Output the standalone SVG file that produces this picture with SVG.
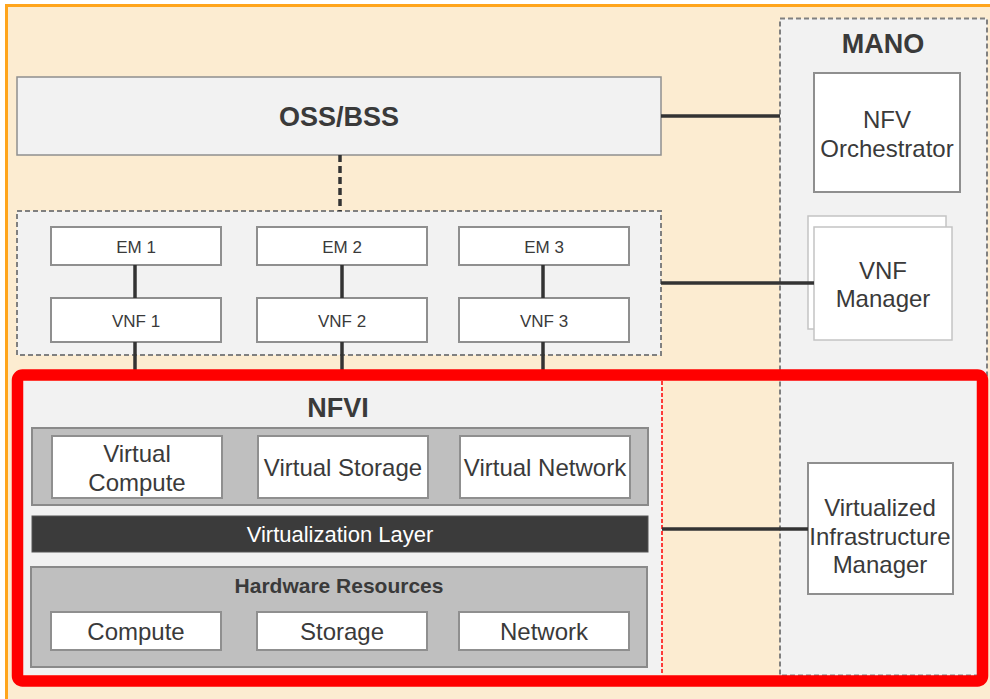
<svg xmlns="http://www.w3.org/2000/svg" width="990" height="699" viewBox="0 0 990 699">
  <style>
    text { font-family: "Liberation Sans", Arial, sans-serif; fill: #3a3a3a; text-anchor: middle; }
    .title { font-size: 27px; font-weight: bold; }
    .lbl { font-size: 24px; }
    .small { font-size: 17px; }
    .box { fill: #ffffff; stroke: #8f8f8f; stroke-width: 2; }
    .lightbox { fill: #ffffff; stroke: #c4c4c4; stroke-width: 1.5; }
    .panel { fill: #f2f2f2; stroke: #8f8f8f; stroke-width: 1.5; }
    .dashpanel { fill: #f2f2f2; stroke: #808080; stroke-width: 2; stroke-dasharray: 5 3; }
    .tray { fill: #bfbfbf; stroke: #8a8a8a; stroke-width: 2; }
    .link { stroke: #333333; stroke-width: 3.5; fill: none; }
  </style>

  <!-- overall canvas -->
  <rect x="6.5" y="5.5" width="1000" height="720" fill="#fcecd1" stroke="#ffa51c" stroke-width="3"/>

  <!-- MANO column -->
  <g id="mano">
    <rect class="dashpanel" x="780" y="18.5" width="207" height="657"/>
    <text class="title" x="883" y="53">MANO</text>
  </g>

  <g id="oss-bss">
    <rect class="panel" x="17" y="77" width="644" height="78"/>
    <text class="title" x="339" y="126">OSS/BSS</text>
  </g>

  <g id="nfv-orchestrator">
    <rect class="box" x="814" y="73" width="146" height="119"/>
    <text class="lbl" x="887" y="128">NFV</text>
    <text class="lbl" x="887" y="157">Orchestrator</text>
  </g>

  <g id="vnf-manager">
    <rect class="lightbox" x="808" y="216" width="138" height="113"/>
    <rect class="lightbox" x="814" y="227" width="138" height="113"/>
    <text class="lbl" x="883" y="279">VNF</text>
    <text class="lbl" x="883" y="307">Manager</text>
  </g>

  <!-- VNF / EM area -->
  <g id="vnf-area">
    <rect class="dashpanel" x="17" y="211" width="644" height="144"/>
  </g>
  <g id="em1"><rect class="box" x="51" y="227" width="170" height="38"/><text class="small" x="136" y="253">EM 1</text></g>
  <g id="em2"><rect class="box" x="257" y="227" width="170" height="38"/><text class="small" x="342" y="253">EM 2</text></g>
  <g id="em3"><rect class="box" x="459" y="227" width="170" height="38"/><text class="small" x="544" y="253">EM 3</text></g>
  <g id="vnf1"><rect class="box" x="51" y="298" width="170" height="44"/><text class="small" x="136" y="327">VNF 1</text></g>
  <g id="vnf2"><rect class="box" x="257" y="298" width="170" height="44"/><text class="small" x="342" y="327">VNF 2</text></g>
  <g id="vnf3"><rect class="box" x="459" y="298" width="170" height="44"/><text class="small" x="544" y="327">VNF 3</text></g>

  <!-- NFVI -->
  <g id="nfvi">
    <rect x="23" y="381" width="639" height="294" fill="#f2f2f2"/>
    <line x1="662" y1="381" x2="662" y2="675" stroke="#ff0000" stroke-width="1.5" stroke-dasharray="4 2"/>
    <text class="title" x="338" y="417">NFVI</text>
  </g>
  <g id="virtual-resources">
    <rect class="tray" x="32" y="428" width="616" height="77"/>
  </g>
  <g id="virtual-compute">
    <rect class="box" x="52" y="436" width="170" height="62"/>
    <text class="lbl" x="137" y="462">Virtual</text>
    <text class="lbl" x="137" y="491">Compute</text>
  </g>
  <g id="virtual-storage">
    <rect class="box" x="258" y="436" width="170" height="62"/>
    <text class="lbl" x="343" y="476">Virtual Storage</text>
  </g>
  <g id="virtual-network">
    <rect class="box" x="460" y="436" width="170" height="62"/>
    <text class="lbl" x="545" y="476">Virtual Network</text>
  </g>
  <g id="virtualization-layer">
    <rect x="32" y="516" width="616" height="36" fill="#3b3b3b" stroke="#555555" stroke-width="1"/>
    <text x="340" y="542" style="font-size:22px; fill:#ffffff;">Virtualization Layer</text>
  </g>
  <g id="hardware-resources">
    <rect class="tray" x="31" y="567" width="616" height="100"/>
    <text x="339" y="593" style="font-size:21px; font-weight:bold;">Hardware Resources</text>
  </g>
  <g id="compute"><rect class="box" x="51" y="612" width="170" height="38"/><text class="lbl" x="136" y="640">Compute</text></g>
  <g id="storage"><rect class="box" x="257" y="612" width="170" height="38"/><text class="lbl" x="342" y="640">Storage</text></g>
  <g id="network"><rect class="box" x="459" y="612" width="170" height="38"/><text class="lbl" x="544" y="640">Network</text></g>

  <g id="vim">
    <rect class="box" x="808" y="463" width="145" height="131"/>
    <text class="lbl" x="880" y="516">Virtualized</text>
    <text class="lbl" x="880" y="545">Infrastructure</text>
    <text class="lbl" x="880" y="573">Manager</text>
  </g>

  <!-- connectors -->
  <g id="connectors">
    <line class="link" x1="661" y1="116" x2="780" y2="116"/>
    <line class="link" x1="340" y1="155" x2="340" y2="211" stroke-dasharray="7 4"/>
    <line class="link" x1="661" y1="283" x2="814" y2="283"/>
    <line class="link" x1="135" y1="265" x2="135" y2="298"/>
    <line class="link" x1="342" y1="265" x2="342" y2="298"/>
    <line class="link" x1="543" y1="265" x2="543" y2="298"/>
    <line class="link" x1="135" y1="342" x2="135" y2="372"/>
    <line class="link" x1="342" y1="342" x2="342" y2="372"/>
    <line class="link" x1="543" y1="342" x2="543" y2="372"/>
    <line class="link" x1="662" y1="529" x2="808" y2="529"/>
  </g>

  <!-- NFVI highlight frame -->
  <rect x="17.5" y="375" width="965" height="306" rx="5" fill="none" stroke="#ff0000" stroke-width="11.5"/>
</svg>
